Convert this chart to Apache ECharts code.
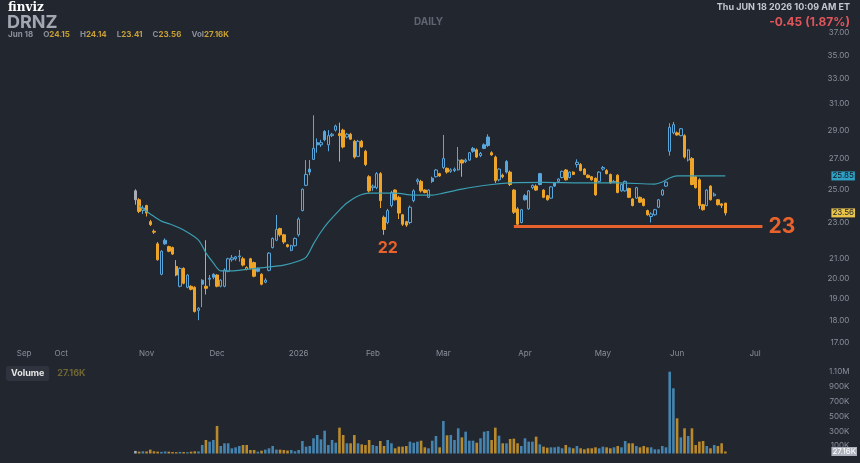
<!DOCTYPE html>
<html>
<head>
<meta charset="utf-8">
<title>DRNZ daily</title>
<script src="https://cdn.jsdelivr.net/npm/echarts@6/dist/echarts.min.js"></script>
<style>
html, body { margin: 0; padding: 0; background: #22262f; }
#chart { width: 860px; height: 463px; }
</style>
</head>
<body>
<div id="chart"></div>
<script>
/* data */
var firstDay = '2025-10-29';

var opens = [
	24.90, 24.35, 23.70, 24.00, 23.05, 22.50, 21.80, 20.20, 22.00, 21.65,
	21.60, 20.60, 19.60, 20.50, 19.55, 19.60, 19.55, 18.45, 19.90, 19.60,
	19.95, 20.20, 20.16, 19.60, 19.60, 20.35, 20.95, 21.00, 21.10, 21.00,
	20.45, 21.00, 20.80, 20.50, 20.20, 19.80, 20.40, 21.60, 22.00, 22.65,
	22.30, 21.75, 21.45, 21.70, 22.30, 23.70, 25.25, 26.30, 26.95, 28.10,
	27.95, 28.90, 27.95, 28.60, 29.00, 28.75, 29.00, 28.50, 28.70, 28.20,
	27.15, 28.20, 27.50, 25.80, 25.10, 25.10, 26.00, 23.30, 23.00, 24.00,
	24.95, 24.50, 23.45, 23.05, 23.00, 24.30, 25.50, 25.50, 24.95, 24.50,
	25.70, 25.80, 26.00, 26.40, 26.35, 26.15, 26.20, 26.25, 26.90, 26.80,
	26.90, 27.70, 27.60, 27.20, 27.95, 28.50, 27.40, 27.10, 25.60, 25.90,
	26.80, 26.10, 24.95, 23.80, 23.00, 24.60, 23.80, 25.10, 25.20, 26.00,
	24.95, 24.60, 24.45, 25.40, 25.50, 25.75, 26.24, 25.75, 26.10, 26.60,
	26.60, 26.30, 25.90, 25.80, 25.70, 25.50, 26.30, 26.20, 25.95, 25.45,
	25.90, 24.90, 24.90, 25.05, 24.40, 24.45, 24.50, 24.40, 23.70, 23.35,
	23.45, 23.90, 24.65, 25.20, 27.50, 28.80, 28.80, 28.60, 28.60, 26.90,
	27.00, 25.80, 25.60, 24.05, 24.00, 25.20, 24.60, 24.35, 24.10, 24.15
];
var highs = [
	25.00, 24.45, 24.00, 24.05, 23.15, 22.60, 21.90, 21.45, 22.10, 21.70,
	21.65, 20.93, 20.55, 20.55, 20.20, 19.65, 19.60, 18.60, 19.95, 22.00,
	20.16, 20.25, 20.20, 19.95, 20.50, 21.05, 21.20, 21.15, 21.47, 21.10,
	20.60, 21.05, 20.85, 20.55, 20.25, 20.00, 21.35, 22.15, 23.44, 22.70,
	22.35, 21.80, 21.75, 22.15, 23.30, 25.05, 26.90, 26.90, 30.10, 28.40,
	28.30, 29.00, 29.00, 28.80, 29.40, 29.55, 29.10, 28.80, 28.80, 28.30,
	28.30, 28.30, 27.60, 25.90, 25.30, 26.10, 26.10, 23.40, 23.80, 24.90,
	25.00, 24.60, 23.50, 23.10, 24.00, 25.00, 25.70, 25.60, 25.00, 25.00,
	25.80, 26.30, 26.05, 28.65, 26.40, 26.35, 26.40, 27.80, 26.95, 27.00,
	27.45, 27.80, 27.70, 27.45, 28.05, 28.70, 27.50, 27.20, 26.35, 26.00,
	26.90, 26.20, 25.00, 23.90, 23.80, 24.70, 24.95, 25.30, 25.30, 26.05,
	25.00, 24.65, 25.20, 25.45, 25.70, 26.20, 26.30, 26.15, 26.15, 26.95,
	26.70, 26.35, 25.95, 25.85, 25.75, 26.15, 26.50, 26.30, 26.00, 25.60,
	25.95, 25.35, 25.55, 25.10, 24.45, 25.15, 24.55, 24.45, 23.75, 23.60,
	23.80, 24.40, 25.00, 25.50, 29.50, 29.60, 28.90, 29.15, 28.70, 27.65,
	27.10, 25.85, 25.70, 24.10, 25.00, 25.25, 24.80, 24.40, 24.15, 24.15
];
var lows = [
	24.05, 23.55, 23.50, 23.35, 22.80, 22.35, 20.90, 20.15, 21.75, 21.35,
	21.20, 20.10, 19.55, 19.70, 19.50, 19.40, 18.35, 18.00, 18.60, 19.20,
	19.60, 19.95, 19.55, 19.55, 19.55, 20.30, 20.85, 20.90, 20.85, 20.60,
	20.40, 20.45, 20.05, 20.30, 19.65, 19.75, 20.35, 21.55, 21.95, 22.20,
	21.80, 21.60, 21.40, 21.65, 22.20, 23.65, 25.20, 25.90, 26.90, 27.40,
	27.80, 28.20, 27.50, 28.50, 28.90, 26.80, 27.70, 28.40, 28.30, 27.00,
	27.10, 27.75, 26.50, 24.80, 24.90, 25.00, 23.85, 22.30, 22.90, 23.90,
	24.30, 23.20, 22.80, 22.75, 22.90, 24.20, 25.30, 24.80, 24.75, 24.45,
	25.40, 25.75, 25.80, 26.30, 26.00, 26.05, 26.10, 26.20, 25.80, 26.70,
	26.85, 27.40, 27.05, 27.10, 27.65, 27.80, 27.20, 25.40, 25.50, 25.70,
	26.00, 25.20, 23.50, 22.75, 22.95, 24.30, 23.75, 25.00, 24.90, 25.25,
	24.45, 24.30, 24.40, 25.15, 25.45, 25.70, 25.55, 25.70, 25.90, 26.40,
	26.15, 25.90, 25.70, 25.55, 24.60, 25.45, 26.20, 25.95, 25.35, 25.40,
	24.75, 24.85, 24.85, 24.45, 23.95, 24.40, 24.15, 23.95, 23.40, 23.00,
	23.40, 23.85, 24.60, 25.15, 27.20, 28.70, 28.60, 28.55, 27.00, 26.80,
	25.25, 25.05, 23.80, 23.70, 23.95, 24.30, 24.55, 24.00, 23.85, 23.41
];
var closes = [
	24.35, 23.65, 23.85, 23.55, 22.88, 22.45, 20.95, 21.40, 21.80, 21.40,
	21.25, 20.16, 20.50, 19.75, 20.16, 19.45, 18.40, 18.55, 19.70, 19.50,
	20.00, 20.05, 19.60, 19.90, 20.42, 21.00, 21.05, 21.10, 21.15, 20.67,
	20.55, 20.50, 20.10, 20.35, 19.70, 19.90, 21.30, 22.10, 22.60, 22.30,
	21.90, 21.65, 21.70, 22.10, 23.20, 25.00, 25.95, 26.10, 27.70, 27.95,
	28.10, 28.30, 28.60, 28.70, 29.30, 28.60, 27.80, 28.70, 28.35, 27.10,
	28.20, 27.80, 26.60, 24.90, 25.20, 26.00, 24.30, 22.60, 23.70, 24.80,
	24.35, 23.55, 22.90, 22.85, 23.90, 24.90, 25.60, 24.90, 24.80, 24.95,
	25.50, 26.24, 25.85, 27.00, 26.10, 26.25, 26.30, 26.90, 26.70, 26.90,
	27.40, 27.50, 27.10, 27.35, 27.70, 27.90, 27.25, 25.55, 26.30, 25.80,
	26.10, 25.30, 23.60, 22.90, 23.75, 24.35, 24.90, 25.25, 24.95, 25.30,
	24.50, 24.35, 25.15, 25.20, 25.65, 26.15, 25.60, 26.10, 25.95, 26.75,
	26.20, 25.95, 25.75, 25.60, 24.65, 26.10, 26.40, 26.00, 25.40, 25.50,
	24.80, 25.30, 25.50, 24.50, 24.00, 25.10, 24.20, 24.00, 23.45, 23.50,
	23.75, 24.35, 24.95, 25.45, 29.20, 29.40, 28.65, 29.10, 27.10, 27.60,
	25.30, 25.10, 24.00, 23.75, 24.95, 24.35, 24.70, 24.05, 24.01, 23.56
];
// volume in thousands of shares
var volumes = [
	35, 25, 30, 28, 52, 30, 25, 22, 28, 25,
	20, 18, 22, 20, 18, 25, 30, 28, 114, 181,
	159, 181, 370, 101, 137, 137, 70, 83, 101, 114,
	114, 47, 47, 25, 38, 52, 70, 101, 52, 52,
	47, 40, 47, 30, 47, 168, 92, 101, 204, 248,
	190, 306, 114, 181, 145, 347, 248, 137, 137, 248,
	137, 123, 114, 181, 114, 101, 168, 101, 181, 137,
	70, 92, 92, 101, 159, 145, 159, 172, 83, 70,
	172, 235, 83, 436, 244, 248, 181, 338, 217, 293,
	172, 172, 145, 204, 293, 302, 181, 347, 239, 137,
	137, 195, 199, 137, 101, 204, 159, 159, 226, 123,
	92, 78, 83, 83, 92, 70, 114, 83, 70, 101,
	70, 56, 70, 70, 83, 70, 92, 83, 70, 83,
	101, 83, 168, 137, 137, 101, 83, 101, 83, 83,
	56, 56, 101, 83, 1098, 875, 472, 217, 338, 235,
	338, 114, 159, 168, 101, 70, 114, 101, 137, 27.16
];
// moving average, read at these candle numbers
var maAt = [1, 4, 7, 10, 13, 17, 19, 21, 23, 26, 30, 35, 40, 44, 46, 48, 50, 52, 55, 57,
	60, 63, 70, 75, 80, 83, 88, 95, 101, 110, 120, 130, 140, 142, 144, 146, 150, 159];
var maValues = [23.97, 23.50, 23.08, 22.86, 22.57, 22.01, 21.31, 20.78, 20.37, 20.37,
	20.45, 20.55, 20.67, 20.88, 21.09, 21.80, 22.46, 23.02, 23.73, 24.15,
	24.58, 24.76, 24.76, 24.64, 24.64, 24.76, 25.01, 25.27, 25.40, 25.43,
	25.40, 25.40, 25.33, 25.46, 25.72, 25.85, 25.85, 25.85];

var xTickDates = ['2025-09-17', '2025-10-01', '2025-11-03', '2025-12-01', '2026-01-02', '2026-02-02',
	'2026-03-02', '2026-04-01', '2026-05-01', '2026-06-01', '2026-07-01'];
var xTickNames = ['Sep', 'Oct', 'Nov', 'Dec', '2026', 'Feb', 'Mar', 'Apr', 'May', 'Jun', 'Jul'];
var priceTicks = [17, 18, 19, 20, 21, 23, 25, 27, 29, 31, 33, 35, 37];
var volTicks = [100, 300, 500, 700, 900, 1100];

var supportLevel = 22.76; // drawn line "23"
var noteLevel = 21.55;    // handwritten "22"

/* colours */
var BG = '#22262f';
var BLUE = '#58a6dc';
var ORANGE = '#eea428';
var GREY = '#a9adb5';
var VBLUE = '#4684b0';
var VORANGE = '#b98a2c';
var TEAL = '#3a9fb2';
var ANNOT = '#e8622c';
var LABEL = '#8a8f9a';

/* trading days for the category axis */
var holidays = ['2025-11-27', '2025-12-25', '2026-01-01', '2026-01-19', '2026-02-16',
	'2026-04-03', '2026-05-25', '2026-06-19', '2026-07-03'];
var dates = [];
var day = new Date(Date.UTC(2025, 8, 9));
while (dates.length < 216) {
	var s = day.toISOString().slice(0, 10);
	var wd = day.getUTCDay();
	if (wd !== 0 && wd !== 6 && holidays.indexOf(s) < 0) dates.push(s);
	day.setUTCDate(day.getUTCDate() + 1);
}
var first = dates.indexOf(firstDay);

function dirColor(k, up, down) {
	if (k === 0) return GREY;
	return closes[k] >= closes[k - 1] ? up : down;
}

var candleData = closes.map(function(c, k) {
	var col = dirColor(k, BLUE, ORANGE);
	var fill = c > opens[k] ? BG : col; // hollow when close > open
	return {
		value: [dates[first + k], opens[k], c, lows[k], highs[k]],
		itemStyle: { color: fill, color0: fill, borderColor: col, borderColor0: col, borderWidth: 1 }
	};
});

var volData = volumes.map(function(v, k) {
	return { value: [dates[first + k], v], itemStyle: { color: dirColor(k, VBLUE, VORANGE) } };
});

var maData = maAt.map(function(k, i) {
	return [dates[first + k], maValues[i]];
});

// price tag at the right edge, the line itself is invisible
function tag(val, text, bg, fg) {
	return {
		yAxis: val,
		lineStyle: { color: 'rgba(0,0,0,0)', width: 0 },
		label: {
			show: true, position: 'end', distance: 30, formatter: text,
			backgroundColor: bg, color: fg, fontSize: 8, padding: [1, 1, 0, 1], opacity: 1
		}
	};
}

var grids = [
	{ left: 0, right: 58.6, top: 30.85, height: 314.5 },
	{ left: 0, right: 58.6, top: 364.1, height: 89.4 }
];

var myChart = echarts.init(document.getElementById('chart'));

var option = {
	backgroundColor: BG,
	animation: false,
	textStyle: { fontFamily: 'Inter' },
	title: [
		{ text: 'finviz', left: 8, top: 2, padding: 0,
			textStyle: { color: '#ffffff', fontSize: 12, fontWeight: 'bold', fontFamily: 'DejaVu Serif' } },
		{ text: 'DRNZ', left: 7, top: 14, padding: 0,
			textStyle: { color: '#a3a7b1', fontSize: 18, fontWeight: 'bold' } },
		{
			text: '{l0|Jun 18}{l|O}{v|24.15}{l|H}{v|24.14}{l|L}{v|23.41}{l|C}{v|23.56}{l|Vol}{v|27.16K}',
			left: 8, top: 31, padding: 0,
			textStyle: {
				rich: {
					l0: { color: LABEL, fontSize: 8 },
					l: { color: LABEL, fontSize: 8, padding: [0, 0, 0, 10] },
					v: { color: '#c9a035', fontSize: 8 }
				}
			}
		},
		{ text: 'DAILY', left: 414, top: 17, padding: 0,
			textStyle: { color: '#5f6472', fontSize: 10, fontWeight: 'bold' } },
		{ text: 'Thu JUN 18 2026 10:09 AM ET', right: 10, top: 3, padding: 0,
			textStyle: { color: '#c3c7cf', fontSize: 9, fontWeight: 'bold' } },
		{ text: '-0.45 (1.87%)', right: 10, top: 16, padding: 0,
			textStyle: { color: '#e0555a', fontSize: 12, fontWeight: 'bold' } },
		{
			text: '{b|Volume}{v|27.16K}', left: 6, top: 366, padding: 0,
			textStyle: {
				rich: {
					b: { color: '#e6e6e6', fontSize: 9, backgroundColor: '#2f333d', borderRadius: 3, padding: [3, 5] },
					v: { color: '#6f6634', fontSize: 9, padding: [0, 0, 0, 8] }
				}
			}
		}
	],
	grid: grids,
	xAxis: [{
		type: 'category', gridIndex: 0, data: dates,
		axisLine: { show: false }, axisTick: { show: false }, splitLine: { show: false },
		axisLabel: {
			color: LABEL, fontSize: 8, margin: 4,
			interval: function(i, v) { return xTickDates.indexOf(v) >= 0; },
			formatter: function(v) { return xTickNames[xTickDates.indexOf(v)]; }
		}
	}, {
		type: 'category', gridIndex: 1, data: dates,
		axisLine: { show: false }, axisTick: { show: false }, axisLabel: { show: false }
	}],
	yAxis: [{
		type: 'log', logBase: 10, gridIndex: 0, position: 'right', min: 16.9, max: 37.2,
		axisLine: { show: false }, axisTick: { show: false }, splitLine: { show: false },
		axisLabel: {
			customValues: priceTicks, color: LABEL, fontSize: 8, align: 'right', margin: 48,
			formatter: function(v) { return v.toFixed(2); }
		}
	}, {
		type: 'value', gridIndex: 1, position: 'right', min: 0, max: 1200,
		axisLine: { show: false }, axisTick: { show: false }, splitLine: { show: false },
		axisLabel: {
			customValues: volTicks, color: LABEL, fontSize: 8, align: 'right', margin: 48,
			formatter: function(v) { return v >= 1000 ? (v / 1000).toFixed(2) + 'M' : v + 'K'; }
		}
	}],
	series: [{
		name: 'DRNZ',
		type: 'candlestick',
		xAxisIndex: 0, yAxisIndex: 0,
		encode: { x: 0, y: [1, 2, 3, 4] },
		barWidth: '78%',
		data: candleData,
		markLine: {
			symbol: ['none', 'none'], silent: true,
			data: [
				[{
					coord: [dates[first + 102], supportLevel],
					lineStyle: { color: ANNOT, width: 3, type: 'solid', opacity: 1 },
					label: { show: true, position: 'end', distance: 6, formatter: '23', color: ANNOT, fontSize: 21, fontWeight: 'bold' }
				}, {
					coord: [dates[first + 169], supportLevel]
				}],
				tag(23.56, '23.56', '#e8c44a', '#1d2129')
			]
		},
		markPoint: {
			symbol: 'circle', symbolSize: 1, silent: true,
			itemStyle: { color: 'rgba(0,0,0,0)' },
			label: { show: true, position: 'inside', color: ANNOT, fontSize: 16, fontWeight: 'bold' },
			data: [{ coord: [dates[first + 68], noteLevel], label: { formatter: '22' } }]
		}
	}, {
		name: 'MA',
		type: 'line',
		xAxisIndex: 0, yAxisIndex: 0,
		data: maData,
		smooth: 0.3,
		showSymbol: false,
		lineStyle: { color: TEAL, width: 1.2 },
		markLine: {
			symbol: ['none', 'none'], silent: true,
			data: [tag(25.85, '25.85', '#2fa0c3', '#10141c')]
		}
	}, {
		name: 'Volume',
		type: 'bar',
		xAxisIndex: 1, yAxisIndex: 1,
		barWidth: '70%',
		data: volData,
		markLine: {
			symbol: ['none', 'none'], silent: true,
			data: [tag(27.16, '27.16K', '#aeb3bd', '#ffffff')]
		}
	}]
};

myChart.setOption(option);
</script>
</body>
</html>
